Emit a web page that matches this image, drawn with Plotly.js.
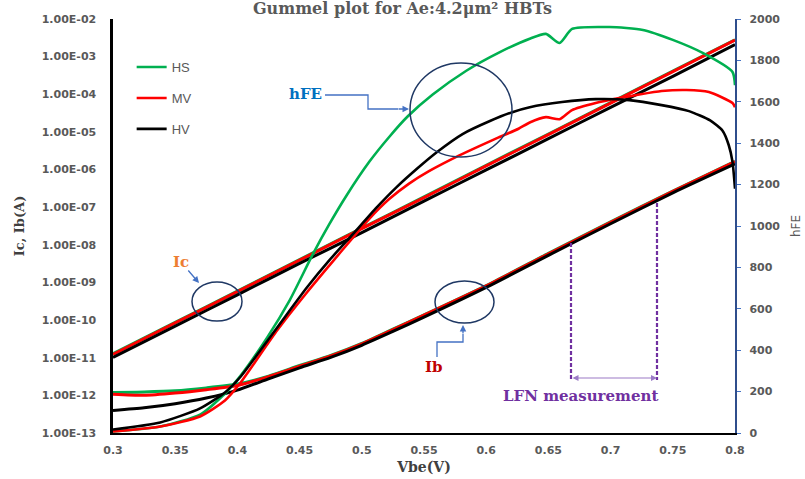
<!DOCTYPE html>
<html>
<head>
<meta charset="utf-8">
<script src="https://cdn.plot.ly/plotly-3.0.1.min.js"></script>
<style>html,body{margin:0;padding:0;background:#fff;}#chart{width:805px;height:479px;}</style>
</head>
<body>
<div id="chart"></div>
<script>
// ---- Data ----
// Collector current Ic (A) vs Vbe (V)
const vIc  = [0.30, 0.35, 0.40, 0.45, 0.50, 0.55, 0.60, 0.65, 0.70, 0.75, 0.80];
const icHS = [1.28e-11, 8.7e-11, 5.9e-10, 4.05e-9, 2.8e-8, 1.87e-7, 1.3e-6, 8.8e-6, 6.0e-5, 4.1e-4, 2.8e-3];
const icMV = [1.23e-11, 8.4e-11, 5.7e-10, 3.9e-9, 2.7e-8, 1.8e-7, 1.25e-6, 8.5e-6, 5.8e-5, 4.0e-4, 2.75e-3];
const icHV = [1.02e-11, 6.9e-11, 4.7e-10, 3.2e-9, 2.1e-8, 1.45e-7, 9.8e-7, 6.6e-6, 4.5e-5, 3.0e-4, 2.1e-3];

// Base current Ib (A) vs Vbe (V)
const vIb  = [0.30, 0.325, 0.35, 0.375, 0.40, 0.425, 0.45, 0.475, 0.50, 0.525, 0.55, 0.60, 0.65, 0.70, 0.75, 0.80];
const ibHS = [1.20e-12, 1.23e-12, 1.32e-12, 1.58e-12, 2.0e-12, 3.24e-12, 6.2e-12, 1.15e-11, 2.40e-11, 5.75e-11, 1.38e-10, 8.3e-10, 5.9e-9, 4.07e-8, 2.69e-7, 1.66e-6];
const ibMV = [1.07e-12, 1.00e-12, 1.15e-12, 1.41e-12, 1.82e-12, 3.16e-12, 6.0e-12, 1.12e-11, 2.34e-11, 5.6e-11, 1.35e-10, 8.1e-10, 5.75e-9, 3.98e-8, 2.63e-7, 1.62e-6];
const ibHV = [3.98e-13, 4.68e-13, 6.0e-13, 8.5e-13, 1.38e-12, 2.75e-12, 5.4e-12, 1.02e-11, 2.14e-11, 5.0e-11, 1.20e-10, 7.4e-10, 5.25e-9, 3.63e-8, 2.40e-7, 1.41e-6];

// Current gain hFE vs Vbe (V)
const vHfeHS = [0.300, 0.338, 0.370, 0.390, 0.402, 0.424, 0.442, 0.461, 0.474, 0.488, 0.506, 0.522, 0.537, 0.557, 0.584, 0.611, 0.635, 0.648, 0.659, 0.669, 0.699, 0.726, 0.750, 0.774, 0.798, 0.800];
const hfeHS  = [7, 31, 89, 191, 273, 462, 641, 868, 1010, 1150, 1310, 1430, 1530, 1635, 1750, 1840, 1905, 1928, 1884, 1952, 1961, 1947, 1899, 1836, 1744, 1680];
const vHfeMV = [0.300, 0.338, 0.370, 0.390, 0.402, 0.432, 0.456, 0.474, 0.493, 0.506, 0.522, 0.538, 0.554, 0.578, 0.594, 0.610, 0.626, 0.635, 0.648, 0.659, 0.669, 0.688, 0.707, 0.721, 0.741, 0.761, 0.779, 0.798, 0.800];
const hfeMV  = [7, 31, 80, 157, 239, 496, 680, 810, 945, 1035, 1130, 1205, 1265, 1340, 1385, 1428, 1470, 1500, 1526, 1516, 1560, 1594, 1618, 1633, 1652, 1657, 1647, 1594, 1574];
const vHfeHV = [0.300, 0.338, 0.370, 0.390, 0.402, 0.432, 0.456, 0.474, 0.493, 0.512, 0.528, 0.545, 0.560, 0.581, 0.603, 0.621, 0.635, 0.661, 0.688, 0.715, 0.741, 0.763, 0.780, 0.790, 0.795, 0.798, 0.800];
const hfeHV  = [17, 51, 119, 196, 268, 510, 704, 835, 962, 1090, 1188, 1280, 1355, 1444, 1507, 1550, 1574, 1599, 1613, 1608, 1584, 1555, 1510, 1460, 1390, 1310, 1180];

// Tick labels
const xTickVals = [0.3, 0.35, 0.4, 0.45, 0.5, 0.55, 0.6, 0.65, 0.7, 0.75, 0.8];
const xTickText = ['0.3', '0.35', '0.4', '0.45', '0.5', '0.55', '0.6', '0.65', '0.7', '0.75', '0.8'];
const yTickVals = [1e-13, 1e-12, 1e-11, 1e-10, 1e-9, 1e-8, 1e-7, 1e-6, 1e-5, 1e-4, 1e-3, 1e-2];
const yTickText = ['1.00E-13', '1.00E-12', '1.00E-11', '1.00E-10', '1.00E-09', '1.00E-08', '1.00E-07', '1.00E-06', '1.00E-05', '1.00E-04', '1.00E-03', '1.00E-02'];
const seriesNames = ['HS', 'MV', 'HV'];

// ---- Styles ----
const colors = {HS: '#00B050', MV: '#FF0000', HV: '#000000'};
const gray = '#595959';
const serif = 'DejaVu Serif, serif';
const sans = 'DejaVu Sans, sans-serif';

// helpers to place decorations (pixel -> axis units), plot area 113..735 x 19..433
const X = px => 0.3 + (px - 113) / 1244;
const H = py => (433 - py) * 2000 / 414;

const curr = (x, y, name) => ({
  x, y, type: 'scatter', mode: 'lines', xaxis: 'x', yaxis: 'y', showlegend: false, hoverinfo: 'skip',
  line: {color: colors[name], width: 3, shape: 'spline', smoothing: 0.6}
});
const gain = (x, y, name) => ({
  x, y, type: 'scatter', mode: 'lines', xaxis: 'x', yaxis: 'y2', name, showlegend: true, legendgroup: name,
  line: {color: colors[name], width: 2.6, shape: 'spline', smoothing: 0.6}
});

const data = [
  curr(vIc, icHS, 'HS'), curr(vIb, ibHS, 'HS'),
  curr(vIc, icMV, 'MV'), curr(vIb, ibMV, 'MV'),
  curr(vIc, icHV, 'HV'), curr(vIb, ibHV, 'HV'),
  gain(vHfeHS, hfeHS, seriesNames[0]),
  gain(vHfeMV, hfeMV, seriesNames[1]),
  gain(vHfeHV, hfeHV, seriesNames[2])
];

const circ = (x0, x1, y0, y1) => ({type: 'circle', xref: 'x', yref: 'y2', x0: X(x0), x1: X(x1), y0: H(y0), y1: H(y1), line: {color: '#1F3864', width: 1.5}});
const arrow = (x, y, ax, ay, color, extra) => Object.assign({
  x: X(x), y: H(y), ax: X(ax), ay: H(ay), xref: 'x', yref: 'y2', axref: 'x', ayref: 'y2',
  text: '', showarrow: true, arrowhead: 2, arrowsize: 1, arrowwidth: 1.3, arrowcolor: color
}, extra || {});
const label = (x, y, text, color) => ({
  x: X(x), y: H(y), xref: 'x', yref: 'y2', text, showarrow: false,
  font: {family: serif, size: 15, color, weight: 'bold'}
});

const layout = {
  width: 805, height: 479,
  paper_bgcolor: '#ffffff', plot_bgcolor: '#ffffff',
  margin: {l: 113, r: 70, t: 19, b: 46, pad: 0},
  title: {
    text: '<b>Gummel plot for Ae:4.2μm² HBTs</b>',
    font: {family: serif, size: 16, color: gray},
    xref: 'container', x: 0.5, xanchor: 'center', yref: 'container', y: 0.983, yanchor: 'middle'
  },
  showlegend: true,
  legend: {
    x: 0.03, xanchor: 'left', y: 0.92, yanchor: 'top',
    bgcolor: 'rgba(0,0,0,0)', borderwidth: 0,
    font: {family: 'Liberation Sans, sans-serif', size: 13, color: gray},
    tracegroupgap: 11, itemwidth: 30
  },
  xaxis: {
    range: [0.3, 0.8], tickvals: xTickVals, ticktext: xTickText,
    showgrid: false, zeroline: false, showline: true, linecolor: '#000000', linewidth: 2.2,
    ticks: '', ticklabelstandoff: 6,
    tickfont: {family: sans, size: 11, color: gray, weight: 'bold'},
    title: {text: '<b>Vbe(V)</b>', font: {family: serif, size: 14, color: '#404040'}, standoff: 6},
    automargin: false, fixedrange: true
  },
  xaxis2: {
    overlaying: 'x', side: 'top', anchor: 'y', matches: 'x', range: [0.3, 0.8], tickvals: xTickVals,
    showticklabels: false, showgrid: false, zeroline: false,
    showline: true, linecolor: '#000000', linewidth: 1.5,
    ticks: 'inside', ticklen: 4, tickwidth: 1, tickcolor: '#404040'
  },
  yaxis: {
    type: 'log', range: [-13, -2], tickvals: yTickVals, ticktext: yTickText,
    showgrid: false, zeroline: false, showline: true, linecolor: '#000000', linewidth: 2.6,
    ticks: '', ticklabelstandoff: 12,
    tickfont: {family: sans, size: 11, color: gray, weight: 'bold'},
    title: {text: '<b>Ic, Ib(A)</b>', font: {family: serif, size: 13, color: '#404040'}, standoff: 14},
    automargin: false
  },
  yaxis2: {
    overlaying: 'y', side: 'right', anchor: 'x', range: [0, 2000], dtick: 200,
    showgrid: false, zeroline: false, showline: true, linecolor: '#2F4E8C', linewidth: 2.2,
    ticks: 'outside', ticklen: 4, tickwidth: 1, tickcolor: '#4472C4', ticklabelstandoff: 6,
    tickfont: {family: sans, size: 11, color: gray, weight: 'bold'},
    title: {text: 'hFE', font: {family: sans, size: 12, color: gray}, standoff: 12},
    automargin: false
  },
  shapes: [
    circ(410, 512, 63, 157),
    circ(192, 242, 282, 321),
    circ(435, 494, 281, 323),
    {type: 'path', xref: 'x', yref: 'y2',
     path: `M ${X(325)},${H(95)} L ${X(368)},${H(95)} L ${X(368)},${H(109)} L ${X(398)},${H(109)}`,
     line: {color: '#4472C4', width: 1.3}},
    {type: 'path', xref: 'x', yref: 'y2',
     path: `M ${X(437)},${H(357)} L ${X(437)},${H(342)} L ${X(463)},${H(342)} L ${X(463)},${H(334)}`,
     line: {color: '#4472C4', width: 1.3}},
    {type: 'line', xref: 'x', yref: 'y2', x0: X(571), x1: X(571), y0: H(243), y1: H(380),
     line: {color: '#7030A0', width: 2.2, dash: '4px,2px'}},
    {type: 'line', xref: 'x', yref: 'y2', x0: X(657), x1: X(657), y0: H(203), y1: H(380),
     line: {color: '#7030A0', width: 2.2, dash: '4px,2px'}}
  ],
  annotations: [
    label(305, 94, 'hFE', '#0070C0'),
    arrow(409, 109, 397, 109, '#4472C4'),
    label(181, 262, 'Ic', '#ED7D31'),
    arrow(199, 283, 187, 269, '#4472C4'),
    label(434, 367, 'Ib', '#C00000'),
    arrow(463, 325, 463, 335, '#4472C4'),
    arrow(657, 378, 571, 378, '#9B7BC6', {arrowside: 'end+start', arrowwidth: 1.2}),
    label(580, 396, 'LFN measurement', '#7030A0')
  ]
};

Plotly.newPlot('chart', data, layout, {staticPlot: true, displayModeBar: false});
</script>
</body>
</html>
